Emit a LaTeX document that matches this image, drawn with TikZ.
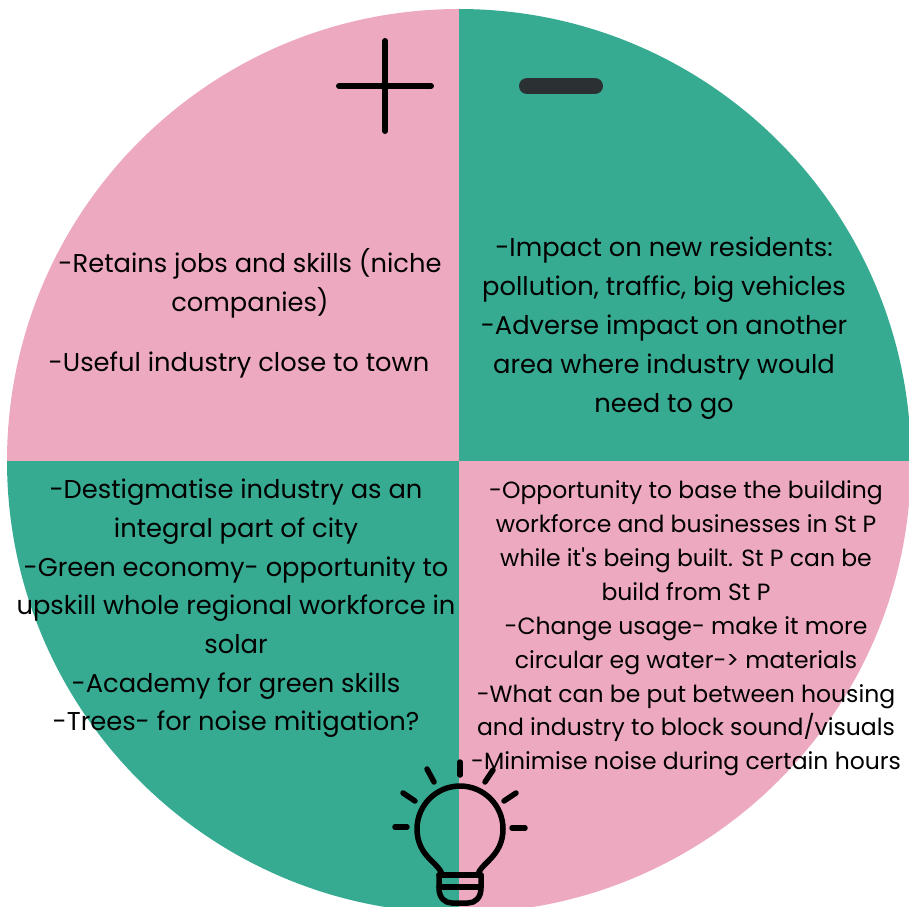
\documentclass[tikz,border=0pt]{standalone}
\usepackage{fontspec}
\setmainfont[Ligatures=NoCommon]{Poppins}
\usetikzlibrary{positioning}
\definecolor{wedgepink}{HTML}{EDA9C0}
\definecolor{wedgegreen}{HTML}{37AB92}
\definecolor{minusgrey}{HTML}{2B3033}
\begin{document}
\begin{tikzpicture}[x=1pt,y=-1pt]
\tikzstyle{bigtext}=[align=center,text=black,inner sep=0pt,font=\fontsize{25.75}{39}\selectfont]
\tikzstyle{smalltext}=[align=center,text=black,inner sep=0pt,font=\fontsize{23.5}{33.9}\selectfont]
\tikzstyle{bulbline}=[draw=black,line width=5.5pt,line cap=round,line join=round]
\useasboundingbox (0,0) rectangle (909,906);
\clip (0,0) rectangle (909,906);
\coordinate (O) at (459,461);
% wedges
\fill[wedgepink] (O) -- (7,461) arc (180:270:452) -- cycle;
\fill[wedgegreen] (O) -- (459,9) arc (270:360:452) -- cycle;
\fill[wedgegreen] (O) -- (459,913) arc (90:180:452) -- cycle;
\fill[wedgepink] (O) -- (911,461) arc (0:90:452) -- cycle;
% plus and minus
\coordinate (plusW) at (339,86);
\coordinate (plusE) at (431,86);
\coordinate (plusN) at (385,41);
\coordinate (plusS) at (385,131);
\draw[black,line width=6pt,line cap=round] (plusW) -- (plusE);
\draw[black,line width=6pt,line cap=round] (plusN) -- (plusS);
\coordinate (minusW) at (527,86);
\coordinate (minusE) at (595,86);
\draw[minusgrey,line width=16pt,line cap=round] (minusW) -- (minusE);
% texts
\node[bigtext] (retains) at (250,283.5) {-Retains jobs and skills (niche\\companies)};
\node[bigtext] (useful) at (239,365) {-Useful industry close to town};
\node[bigtext] (impact) at (664,328) {-Impact on new residents:\\pollution, traffic, big vehicles\\-Adverse impact on another\\area where industry would\\need to go};
\node[bigtext,font=\fontsize{25.75}{38.7}\selectfont] (destig) at (236,608.5) {-Destigmatise industry as an\\integral part of city\\-Green economy- opportunity to\\upskill whole regional workforce in\\solar\\-Academy for green skills\\-Trees- for noise mitigation?};
\node[smalltext] (opport) at (686,628.5) {-Opportunity to base the building\\workforce and businesses in St P\\while it\textquotesingle s being built. St P can be\\build from St P\\-Change usage- make it more\\circular eg water-> materials\\-What can be put between housing\\and industry to block sound/visuals\\-Minimise noise during certain hours};
% bulb
\draw[bulbline] (442,875) .. controls (441,864) and (417,857) .. (417,829) arc (180:360:43) .. controls (503,857) and (479,864) .. (478,875);
\draw[bulbline] (439,875) -- (481,875);
\draw[bulbline] (439,887) -- (481,887);
\draw[bulbline] (439,875) -- (439,888) .. controls (439,898) and (445,903) .. (452,903) -- (468,903) .. controls (475,903) and (481,898) .. (481,888) -- (481,875);
\foreach \xa/\ya/\xb/\yb in {395/827/407/827,403/793/415/801,427/769/434/782,460/762/460/775,493/770/485/782,516/793/504/801,512/828/525/828}
  \draw[bulbline] (\xa,\ya) -- (\xb,\yb);
\end{tikzpicture}
\end{document}
